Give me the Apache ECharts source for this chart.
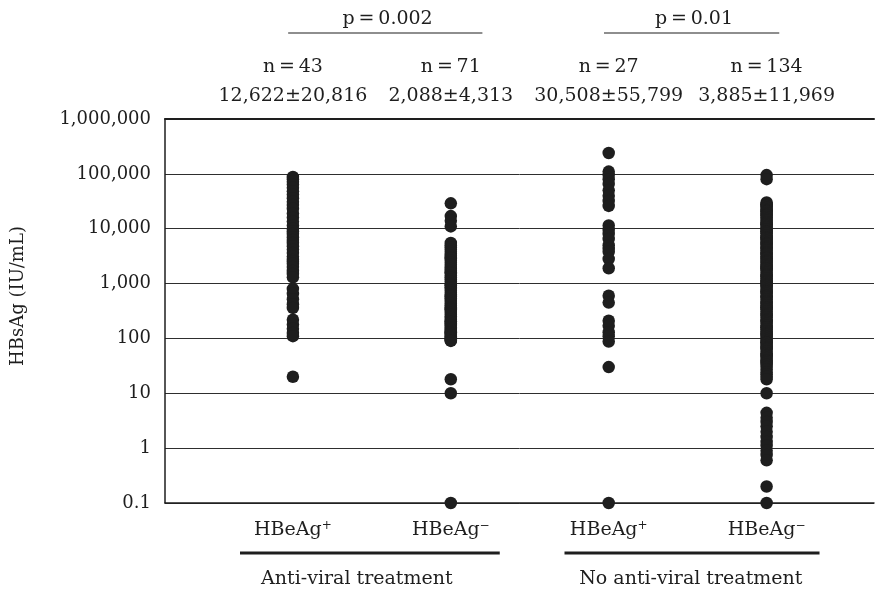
<!DOCTYPE html>
<html>
<head>
<meta charset="utf-8">
<script src="https://cdn.jsdelivr.net/npm/echarts@6/dist/echarts.min.js"></script>
<style>
  html, body { margin: 0; padding: 0; background: #fff; }
  #chart { width: 877px; height: 593px; }
</style>
</head>
<body>
<div id="chart"></div>
<script>
// Serum HBsAg levels (IU/mL) per patient, by HBeAg status and treatment
const groupNames = ['HBeAg+', 'HBeAg-', 'HBeAg+', 'HBeAg-'];
const groupSigns = ['+', '−', '+', '−'];
const treatmentNames = ['Anti-viral treatment', 'No anti-viral treatment'];
const nLabels = ['n\u2009=\u200943', 'n\u2009=\u200971', 'n\u2009=\u200927', 'n\u2009=\u2009134'];
const meanSdLabels = ['12,622±20,816', '2,088±4,313', '30,508±55,799', '3,885±11,969'];
const pLabels = ['p\u2009=\u20090.002', 'p\u2009=\u20090.01'];
const yTicks = [0.1, 1, 10, 100, 1000, 10000, 100000, 1000000];

const treatedPos = [
  88000, 80000, 72000, 64000, 56000, 48000, 42000, 36000, 31000, 27000,
  23000, 19000, 16000, 13500, 11500, 10000, 9000, 8000, 7000, 6200,
  5500, 4800, 4200, 3600, 3100, 2700, 2500, 2300, 2000, 1700,
  1500, 1300, 800, 650, 520, 420, 360, 220, 180, 150,
  125, 110, 20
];

const treatedNeg = [
  29000, 17000, 14000, 11000,
  5500, 5000, 4600, 4200, 3800, 3500, 3200, 3000, 2900, 2600,
  2400, 2200, 2000, 1850, 1700, 1600, 1550, 1400, 1300, 1200,
  1100, 1000, 950, 930, 860, 800, 740, 680, 630, 600,
  580, 540, 500, 460, 430, 400, 370, 350, 340, 315,
  290, 270, 250, 235, 220, 205, 200, 190, 180, 170,
  160, 150, 142, 135, 130, 128, 122, 116, 110, 105,
  100, 96, 92, 90,
  18, 10, 0.1
];

const untreatedPos = [
  240000, 110000, 95000, 80000, 65000, 50000, 40000, 32000, 26000,
  11500, 9500, 8000, 6500, 5000, 4300, 3800, 2800, 1900,
  600, 450, 210, 170, 130, 110, 88, 30, 0.1
];

const untreatedNeg = [
  95000, 80000,
  30000, 28000, 27000, 26000, 24000, 22000, 21000, 20500, 19000, 18000,
  17500, 16000, 15000, 14000, 13000, 12500, 12000, 11200, 10500,
  9800, 9000, 8700, 8300, 7600, 7000, 6800, 6500, 6000, 5500,
  5300, 5100, 4700, 4500, 4300, 4000, 3700, 3550, 3400, 3100,
  2950, 2850, 2600, 2500, 2400, 2200, 2100, 2000, 1900, 1850,
  1700, 1580, 1460, 1400, 1350, 1250, 1150, 1100, 1060,
  980, 940, 900, 830, 760, 720, 700, 650, 600, 580,
  550, 510, 470, 450, 430, 400, 370, 360, 340, 310,
  285, 270, 260, 240, 220, 210, 200, 185, 170, 160,
  158, 146, 135, 125, 120, 115, 106,
  98, 90, 85, 83, 76, 70, 67, 64, 58, 53,
  50, 48, 44, 40, 38, 36, 33, 30, 27, 24,
  22, 20, 18,
  10,
  4.4, 3.6, 3, 2.5, 2, 1.6, 1.3, 1.1, 0.9, 0.75, 0.6,
  0.2, 0.1
];

const groups = [treatedPos, treatedNeg, untreatedPos, untreatedNeg];

const FONT = '"DejaVu Serif", "Noto Sans CJK JP", serif';
const INK = '#1e1e1e';

function withCommas(v) {
  if (v < 1) return String(+v.toPrecision(1));
  return String(Math.round(v)).replace(/\B(?=(\d{3})+(?!\d))/g, ',');
}

const chart = echarts.init(document.getElementById('chart'), null, { renderer: 'canvas' });

const xRange = { min: 0.19, max: 4.68 };

chart.setOption({
  animation: false,
  backgroundColor: '#fff',
  grid: { left: 165, right: 3, top: 119, bottom: 90 },
  xAxis: [
    {
      type: 'value',
      min: xRange.min,
      max: xRange.max,
      splitLine: { show: false },
      axisLine: { show: true, onZero: false, lineStyle: { color: INK, width: 1.5 } },
      axisTick: { show: false },
      axisLabel: {
        show: true,
        customValues: [1, 2, 3, 4],
        margin: 17,
        fontFamily: FONT,
        fontSize: 19,
        color: INK,
        formatter: function (v) {
          const i = Math.round(v) - 1;
          return 'HBeAg{sup|' + groupSigns[i] + '}';
        },
        rich: {
          sup: { fontFamily: FONT, fontSize: 12, color: INK, padding: [0, 0, 9, 0] }
        }
      }
    },
    {
      type: 'value',
      position: 'top',
      min: xRange.min,
      max: xRange.max,
      splitLine: { show: false },
      axisLine: { show: true, onZero: false, lineStyle: { color: INK, width: 2 } },
      axisTick: { show: false },
      axisLabel: { show: false }
    }
  ],
  yAxis: {
    type: 'log',
    logBase: 10,
    min: yTicks[0],
    max: yTicks[yTicks.length - 1],
    splitNumber: 7,
    axisLine: { show: true, lineStyle: { color: INK, width: 1.5 } },
    axisTick: { show: false },
    splitLine: { show: true, lineStyle: { color: '#2e2e2e', width: 1 } },
    axisLabel: {
      margin: 14,
      fontFamily: FONT,
      fontSize: 18,
      color: INK,
      formatter: withCommas
    }
  },
  series: groups.map(function (vals, gi) {
    return {
      type: 'scatter',
      xAxisIndex: 0,
      clip: false,
      symbol: 'circle',
      symbolSize: 12.5,
      itemStyle: { color: INK, opacity: 1 },
      data: vals.map(function (v) { return [gi + 1, v]; })
    };
  })
});

// Headers, brackets and treatment labels placed from the axis scale
function px(x) { return chart.convertToPixel({ xAxisIndex: 0 }, x); }

const textStyle = function (txt, size) {
  return { text: txt, fontFamily: FONT, fontSize: size, fill: INK, textAlign: 'center', textVerticalAlign: 'middle' };
};

const graphics = [];

// y-axis title
graphics.push({
  type: 'text', x: 18, y: 296, rotation: Math.PI / 2,
  style: textStyle('HBsAg (IU/mL)', 18)
});

// n and mean ± SD per group
for (let i = 0; i < 4; i++) {
  const cx = px(i + 1);
  graphics.push({ type: 'text', x: cx, y: 67, style: textStyle(nLabels[i], 19) });
  graphics.push({ type: 'text', x: cx, y: 96, style: textStyle(meanSdLabels[i], 19) });
}

// p-value brackets across each treatment pair
const pSpans = [[0.97, 2.2], [2.97, 4.08]];
const pTextX = [1.6, 3.54];
pSpans.forEach(function (span, k) {
  const x1 = px(span[0]), x2 = px(span[1]);
  graphics.push({ type: 'line', shape: { x1: x1, y1: 33, x2: x2, y2: 33 }, style: { stroke: INK, lineWidth: 1.2 } });
  graphics.push({ type: 'text', x: px(pTextX[k]), y: 19, style: textStyle(pLabels[k], 19) });
});

// treatment group underlines and names
const tSpans = [[0.665, 2.31], [2.72, 4.335]];
const tTextX = [1.405, 3.52];
tSpans.forEach(function (span, k) {
  const x1 = px(span[0]), x2 = px(span[1]);
  graphics.push({ type: 'line', shape: { x1: x1, y1: 553, x2: x2, y2: 553 }, style: { stroke: INK, lineWidth: 3 } });
  graphics.push({ type: 'text', x: px(tTextX[k]), y: 579, style: textStyle(treatmentNames[k], 19) });
});

chart.setOption({ graphic: graphics });
</script>
</body>
</html>
